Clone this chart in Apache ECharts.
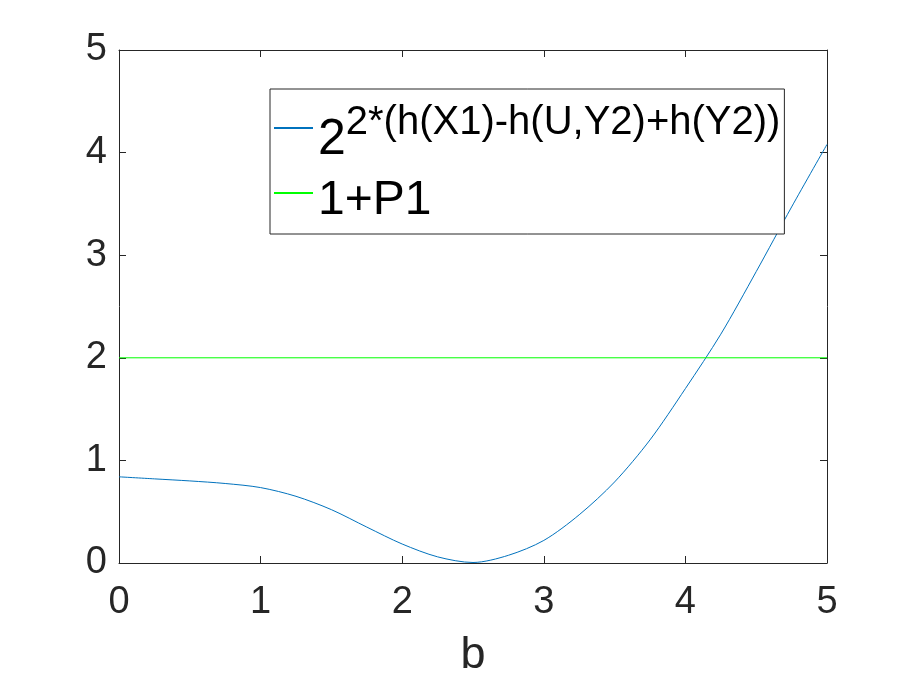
<!DOCTYPE html>
<html>
<head>
<meta charset="utf-8">
<script src="https://cdn.jsdelivr.net/npm/echarts@6/dist/echarts.min.js"></script>
<style>
  html, body { margin: 0; padding: 0; background: #fff; }
  #chart { width: 915px; height: 681px; }
</style>
</head>
<body>
<div id="chart"></div>
<script>
// values
const bValues = [0, 0.25, 0.5, 0.75, 1, 1.25, 1.5, 1.75, 2, 2.25, 2.5, 2.75, 3, 3.25, 3.5, 3.75, 4, 4.25, 4.5, 4.75, 5];
const curveValues = [0.84, 0.82, 0.8, 0.775, 0.735, 0.65, 0.52, 0.35, 0.185, 0.06, 0.005, 0.075, 0.22, 0.47, 0.79, 1.2, 1.7, 2.23, 2.84, 3.47, 4.08];
const p1Range = [0, 5];
const p1Value = 2;
const tickValues = [0, 1, 2, 3, 4, 5];
const seriesNames = ['2^{2*(h(X1)-h(U,Y2)+h(Y2))}', '1+P1'];

const FONT = '"Liberation Sans", Arial, Helvetica, sans-serif';
const INK = '#262626';

const chart = echarts.init(document.getElementById('chart'));

const frameAxis = {
    type: 'value',
    min: tickValues[0],
    max: tickValues[tickValues.length - 1],
    interval: 1,
    splitLine: { show: false },
    axisLine: { show: true, onZero: false, lineStyle: { color: INK, width: 1 } },
    axisTick: { show: true, inside: true, length: 7, lineStyle: { color: INK, width: 1 } },
};

chart.setOption({
    animation: false,
    backgroundColor: '#fff',
    textStyle: { fontFamily: FONT },
    grid: { left: 119, right: 88, top: 50, bottom: 118, outerBoundsMode: 'none', containLabel: false },
    xAxis: [
        {
            ...frameAxis,
            position: 'bottom',
            name: 'b',
            nameLocation: 'middle',
            nameGap: 70,
            nameTextStyle: { color: INK, fontSize: 45, fontFamily: FONT },
            axisLabel: { color: INK, fontSize: 38, margin: 21, fontFamily: FONT },
        },
        { ...frameAxis, position: 'top', axisLabel: { show: false } },
    ],
    yAxis: [
        {
            ...frameAxis,
            position: 'left',
            axisLabel: { color: INK, fontSize: 38, margin: 12, fontFamily: FONT },
        },
        { ...frameAxis, position: 'right', axisLabel: { show: false } },
    ],
    legend: {
        left: 270,
        top: 89,
        orient: 'vertical',
        itemWidth: 39,
        itemHeight: 10,
        itemGap: -4,
        padding: [14, 4, 9, 3],
        backgroundColor: '#fff',
        borderColor: INK,
        borderWidth: 1,
        borderRadius: 0,
        itemStyle: { opacity: 0 },
        data: seriesNames,
        formatter(name) {
            if (name === seriesNames[0]) {
                return '{base|2}{sup|2*(h(X1)-h(U,Y2)+h(Y2))}';
            }
            return '{p|' + name + '}';
        },
        textStyle: {
            color: '#000',
            fontFamily: FONT,
            rich: {
                base: { fontSize: 50, padding: [24, 0, 0, 0], fontFamily: FONT, color: '#000' },
                sup: { fontSize: 40, padding: [0, 0, 10, 0], fontFamily: FONT, color: '#000' },
                p: { fontSize: 48, lineHeight: 52, padding: [16, 0, 0, 0], fontFamily: FONT, color: '#000' },
            },
        },
    },
    series: [
        {
            name: seriesNames[0],
            type: 'line',
            data: bValues.map((b, i) => [b, curveValues[i]]),
            smooth: 0.3,
            symbol: 'none',
            lineStyle: { color: '#0072BD', width: 1 },
            itemStyle: { color: '#0072BD' },
        },
        {
            name: seriesNames[1],
            type: 'line',
            data: p1Range.map((b) => [b, p1Value]),
            symbol: 'none',
            lineStyle: { color: '#00FF00', width: 1 },
            itemStyle: { color: '#00FF00' },
        },
    ],
});
</script>
</body>
</html>
